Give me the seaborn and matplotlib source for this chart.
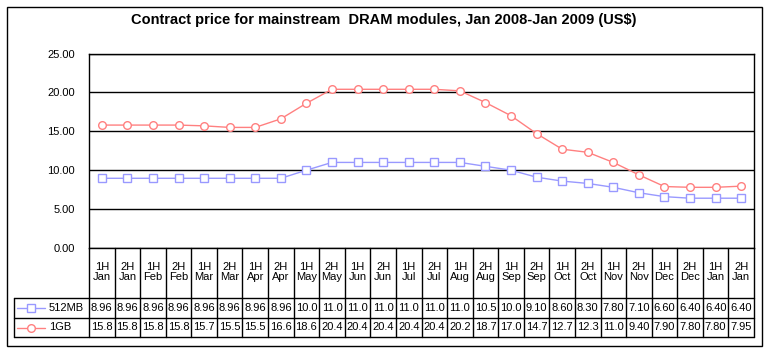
import numpy as np
import pandas as pd
import matplotlib
matplotlib.use("Agg")
import matplotlib.pyplot as plt
import matplotlib.transforms as mtransforms
from matplotlib.patches import Rectangle
from matplotlib.lines import Line2D
import seaborn as sns

halves = ["1H", "2H"] * 13
months = ["Jan", "Jan", "Feb", "Feb", "Mar", "Mar", "Apr", "Apr", "May", "May",
          "Jun", "Jun", "Jul", "Jul", "Aug", "Aug", "Sep", "Sep", "Oct", "Oct",
          "Nov", "Nov", "Dec", "Dec", "Jan", "Jan"]
mb512 = [8.96, 8.96, 8.96, 8.96, 8.96, 8.96, 8.96, 8.96, 10.0, 11.0, 11.0, 11.0, 11.0,
         11.0, 11.0, 10.5, 10.0, 9.10, 8.60, 8.30, 7.80, 7.10, 6.60, 6.40, 6.40, 6.40]
gb1 = [15.8, 15.8, 15.8, 15.8, 15.7, 15.5, 15.5, 16.6, 18.6, 20.4, 20.4, 20.4, 20.4,
       20.4, 20.2, 18.7, 17.0, 14.7, 12.7, 12.3, 11.0, 9.40, 7.90, 7.80, 7.80, 7.95]
series_names = ["512MB", "1GB"]
yticks = [0, 5, 10, 15, 20, 25]

colors = {"512MB": "#9999FF", "1GB": "#FF8080"}
markers = {"512MB": "s", "1GB": "o"}

W, H = 769, 353
sns.set_theme(style="white")
plt.rcParams["font.family"] = ["Liberation Sans", "DejaVu Sans"]
plt.rcParams["text.color"] = "black"
plt.rcParams["ytick.color"] = "black"
plt.rcParams["ytick.labelcolor"] = "black"

fig = plt.figure(figsize=(W / 100, H / 100), dpi=100)
fig.patch.set_facecolor("white")

# plot area in pixels
x0, x1, ytop, ybot = 89, 754, 53.5, 248
ax = fig.add_axes([x0 / W, 1 - ybot / H, (x1 - x0) / W, (ybot - ytop) / H])

x = np.arange(len(months))
df = pd.DataFrame({"x": np.concatenate([x, x]),
                   "price": mb512 + gb1,
                   "module": ["512MB"] * len(x) + ["1GB"] * len(x)})

for name in series_names:
    sub = df[df["module"] == name]
    sns.lineplot(data=sub, x="x", y="price", ax=ax, color=colors[name],
                 marker=markers[name], markersize=5.5, markerfacecolor="white",
                 markeredgecolor=colors[name], markeredgewidth=1.0, linewidth=1.0,
                 legend=False)

ax.set_xlim(-0.5, len(x) - 0.5)
ax.set_ylim(0, 25)
ax.set_yticks(yticks)
ax.set_yticklabels([f"{v:.2f}" for v in yticks], fontsize=8, color="black")
ax.tick_params(axis="y", length=0, pad=10)
ax.set_xticks([])
ax.set_xlabel("")
ax.set_ylabel("")
ax.grid(False)
for v in yticks:
    ax.axhline(v, color="black", linewidth=1.0, zorder=0)
for s in ["left", "right", "top", "bottom"]:
    ax.spines[s].set_visible(True)
    ax.spines[s].set_color("black")
    ax.spines[s].set_linewidth(1.0)

fig.text(384 / W, 1 - 20 / H,
         "Contract price for mainstream  DRAM modules, Jan 2008-Jan 2009 (US$)",
         ha="center", va="center", fontsize=10.5, fontweight="bold", color="black")

# data table below the plot, drawn in pixel coordinates
pix = mtransforms.Affine2D().scale(1 / W, -1 / H).translate(0, 1) + fig.transFigure


def pline(xs, ys, **kw):
    fig.add_artist(Line2D(xs, ys, transform=pix, color="black", linewidth=1.0, **kw))


cw = (x1 - x0) / len(x)
r0, r1, r2, r3 = 248, 298, 318, 337
for i in range(len(x) + 1):
    xp = x0 + i * cw
    pline([xp, xp], [r0, r3])
for yp in [r1, r2, r3]:
    pline([14, x1], [yp, yp])
pline([14, 14], [r1, r3])

for i in range(len(x)):
    xc = x0 + (i + 0.5) * cw
    fig.text(xc / W, 1 - 272 / H, f"{halves[i]}\n{months[i]}",
             ha="center", va="center", fontsize=8, linespacing=1.1, color="black")


def fmt(v):
    return f"{v:.1f}" if v >= 10 else f"{v:.2f}"


for row, (name, vals) in enumerate(zip(series_names, [mb512, gb1])):
    yc = (r1 + r2) / 2 if row == 0 else (r2 + r3) / 2
    for i, v in enumerate(vals):
        xc = x0 + (i + 0.5) * cw
        fig.text(xc / W, 1 - yc / H, fmt(v), ha="center", va="center", fontsize=8,
                 color="black")
    fig.add_artist(Line2D([17, 45], [yc, yc], transform=pix, color=colors[name],
                          linewidth=1.0))
    fig.add_artist(Line2D([31], [yc], transform=pix, color=colors[name],
                          marker=markers[name], markersize=5.5, markerfacecolor="white",
                          markeredgecolor=colors[name]))
    fig.text(49 / W, 1 - yc / H, name, ha="left", va="center", fontsize=8, color="black")

# outer chart border
fig.add_artist(Rectangle((6.5 / W, 1 - 346 / H), (762 - 6.5) / W, (346 - 6.5) / H,
                         transform=fig.transFigure, fill=False, edgecolor="black",
                         linewidth=1.0))

fig.savefig("out.png", dpi=100)
